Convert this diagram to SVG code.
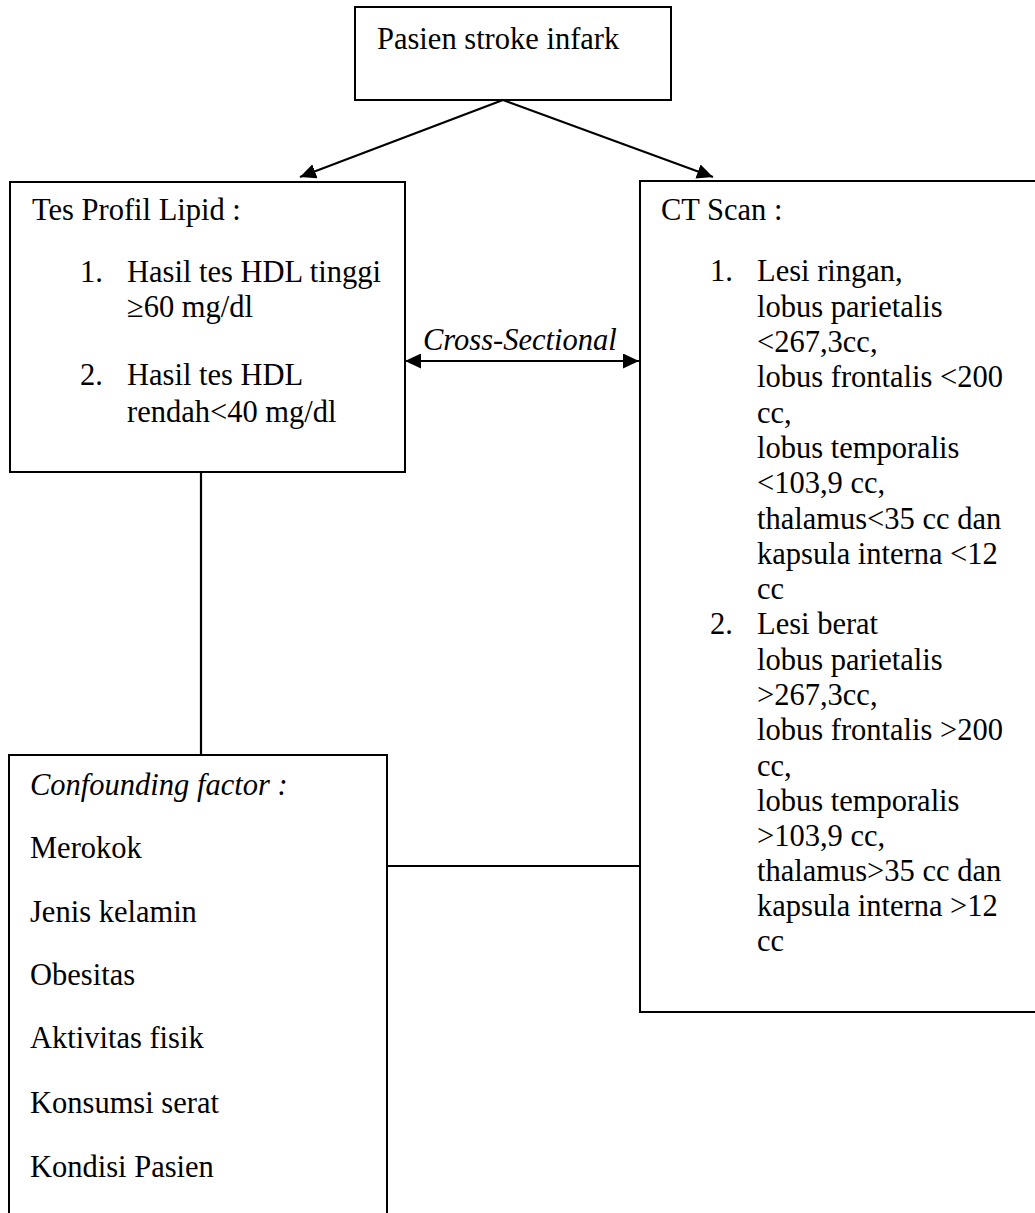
<svg xmlns="http://www.w3.org/2000/svg" width="1035" height="1213" viewBox="0 0 1035 1213">
<style>
.box{fill:#fff;stroke:#000;stroke-width:2}
.ln{fill:none;stroke:#000;stroke-width:2.2}
text{font-family:"Liberation Serif","Times New Roman",serif;font-size:30.5px;fill:#000}
.it{font-style:italic}
</style>
<defs>
<marker id="ah" markerUnits="userSpaceOnUse" markerWidth="17" markerHeight="15" refX="16" refY="7.5" orient="auto-start-reverse">
<path d="M0,0 L16,7.5 L0,15 z" fill="#000"/>
</marker>
</defs>
<rect width="1035" height="1213" fill="#fff"/>
<g id="connectors">
<line class="ln" x1="503" y1="100" x2="300" y2="177" marker-end="url(#ah)"/>
<line class="ln" x1="503" y1="100" x2="713" y2="177" marker-end="url(#ah)"/>
<line class="ln" x1="405" y1="361" x2="639" y2="361" marker-start="url(#ah)" marker-end="url(#ah)"/>
<line class="ln" x1="201" y1="472" x2="201" y2="755"/>
<line class="ln" x1="387" y1="866" x2="640" y2="866"/>
<text class="it" x="423" y="350">Cross-Sectional</text>
</g>
<g id="node-pasien">
<rect class="box" x="355" y="7" width="316" height="93"/>
<text x="377" y="49">Pasien stroke infark</text>
</g>
<g id="node-lipid">
<rect class="box" x="10" y="182" width="395" height="290"/>
<text x="32" y="220">Tes Profil Lipid :</text>
<text x="80" y="282">1.</text>
<text x="127" y="282">Hasil tes HDL tinggi</text>
<text x="127" y="317">≥60 mg/dl</text>
<text x="80" y="385">2.</text>
<text x="127" y="385">Hasil tes HDL</text>
<text x="127" y="422">rendah&lt;40 mg/dl</text>
</g>
<g id="node-ctscan">
<rect class="box" x="640" y="181" width="420" height="831"/>
<text x="661" y="220">CT Scan :</text>
<text x="710" y="281">1.</text>
<text x="757" y="281">Lesi ringan,</text>
<text x="757" y="316.5">lobus parietalis</text>
<text x="757" y="352">&lt;267,3cc,</text>
<text x="757" y="387">lobus frontalis &lt;200</text>
<text x="757" y="422.5">cc,</text>
<text x="757" y="458">lobus temporalis</text>
<text x="757" y="493">&lt;103,9 cc,</text>
<text x="757" y="528.5">thalamus&lt;35 cc dan</text>
<text x="757" y="563.5">kapsula interna &lt;12</text>
<text x="757" y="599">cc</text>
<text x="710" y="634">2.</text>
<text x="757" y="634">Lesi berat</text>
<text x="757" y="669.5">lobus parietalis</text>
<text x="757" y="705">&gt;267,3cc,</text>
<text x="757" y="740">lobus frontalis &gt;200</text>
<text x="757" y="775.5">cc,</text>
<text x="757" y="810.5">lobus temporalis</text>
<text x="757" y="846">&gt;103,9 cc,</text>
<text x="757" y="881">thalamus&gt;35 cc dan</text>
<text x="757" y="916">kapsula interna &gt;12</text>
<text x="757" y="951">cc</text>
</g>
<g id="node-confounding">
<rect class="box" x="9" y="755" width="378" height="480"/>
<text class="it" x="30" y="795">Confounding factor :</text>
<text x="30" y="858">Merokok</text>
<text x="30" y="922">Jenis kelamin</text>
<text x="30" y="985">Obesitas</text>
<text x="30" y="1048">Aktivitas fisik</text>
<text x="30" y="1113">Konsumsi serat</text>
<text x="30" y="1177">Kondisi Pasien</text>
</g>
</svg>
